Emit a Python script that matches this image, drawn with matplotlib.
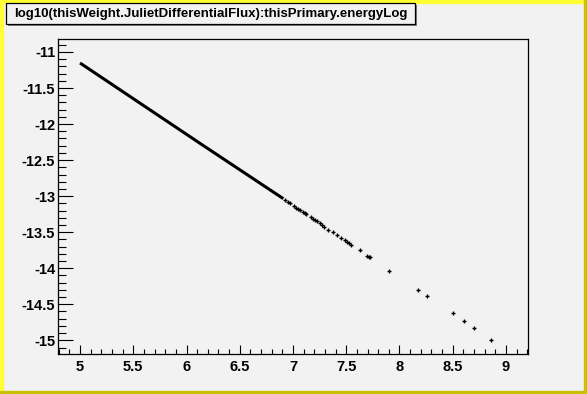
import numpy as np
import matplotlib
matplotlib.use('Agg')
import matplotlib.pyplot as plt
from matplotlib.patches import Rectangle
from matplotlib.ticker import MultipleLocator

# dense part of the scatter (points touch each other, drawn as one thick stroke)
dense_x = [5.000, 6.127, 6.909]
dense_y = [-11.153, -12.268, -13.035]

# separated points at the high-energy end
sparse_x = [6.925, 6.950, 6.972, 7.009, 7.030, 7.050, 7.066, 7.090, 7.110, 7.122,
            7.169, 7.190, 7.210, 7.225, 7.250, 7.270, 7.294, 7.331, 7.378, 7.416,
            7.454, 7.491, 7.510, 7.530, 7.547, 7.632, 7.698, 7.712, 7.726, 7.904,
            8.177, 8.261, 8.505, 8.608, 8.702, 8.862]
sparse_y = [-13.056, -13.080, -13.101, -13.139, -13.160, -13.180, -13.194, -13.220, -13.240, -13.250,
            -13.296, -13.320, -13.335, -13.351, -13.375, -13.395, -13.426, -13.463, -13.504, -13.546,
            -13.574, -13.615, -13.630, -13.655, -13.681, -13.754, -13.824, -13.838, -13.851, -14.032,
            -14.296, -14.379, -14.615, -14.726, -14.824, -14.990]

title = 'log10(thisWeight.JulietDifferentialFlux):thisPrimary.energyLog'
xticks = [5, 5.5, 6, 6.5, 7, 7.5, 8, 8.5, 9]
xticklabels = ['5', '5.5', '6', '6.5', '7', '7.5', '8', '8.5', '9']
yticks = [-15, -14.5, -14, -13.5, -13, -12.5, -12, -11.5, -11]
yticklabels = ['-15', '-14.5', '-14', '-13.5', '-13', '-12.5', '-12', '-11.5', '-11']

W, H = 587, 394
bg = '#f2f2f2'
fig = plt.figure(figsize=(W / 100, H / 100), dpi=100, facecolor=bg)
plt.rcParams['font.family'] = ['Liberation Sans', 'DejaVu Sans']

# canvas border: light yellow top/left, dark yellow bottom/right
fig.patches.append(Rectangle((0, 0), 3 / W, 1, transform=fig.transFigure, color='#ffff33', zorder=0))
fig.patches.append(Rectangle((0, 1 - 3 / H), 1, 3 / H, transform=fig.transFigure, color='#ffff33', zorder=0))
fig.patches.append(Rectangle((1 - 3 / W, 0), 3 / W, 1, transform=fig.transFigure, color='#c8c000', zorder=1))
fig.patches.append(Rectangle((0, 0), 1, 3 / H, transform=fig.transFigure, color='#c8c000', zorder=1))

ax = fig.add_axes([58 / W, 1 - 354 / H, (528 - 58) / W, (354 - 39) / H])
ax.set_facecolor(bg)
ax.plot(dense_x, dense_y, color='black', lw=2.2, solid_capstyle='butt')
ax.plot(sparse_x, sparse_y, ls='none', marker='+', color='black', ms=3.0, mew=1.0)

ax.set_xlim(4.793, 9.207)
ax.set_ylim(-15.19, -10.82)

ax.set_xticks(xticks)
ax.set_xticklabels(xticklabels)
ax.set_yticks(yticks)
ax.set_yticklabels(yticklabels)
ax.xaxis.set_minor_locator(MultipleLocator(0.1))
ax.yaxis.set_minor_locator(MultipleLocator(0.1))
ax.tick_params(axis='x', which='major', direction='in', length=6.5, width=0.8, pad=4,
               labelsize=10.5, top=False)
ax.tick_params(axis='x', which='minor', direction='in', length=3.3, width=0.8, top=False)
ax.tick_params(axis='y', which='major', direction='in', length=10.5, width=0.8, pad=2,
               labelsize=10.5, right=False)
ax.tick_params(axis='y', which='minor', direction='in', length=5.8, width=0.8, right=False)
for lab in ax.get_xticklabels() + ax.get_yticklabels():
    lab.set_fontweight('bold')
for sp in ax.spines.values():
    sp.set_linewidth(0.9)

# title box with shadow
fig.patches.append(Rectangle((8 / W, 1 - 26 / H), 409 / W, 21 / H, transform=fig.transFigure,
                             facecolor='#808080', edgecolor='none', zorder=5))
fig.patches.append(Rectangle((6 / W, 1 - 24 / H), 409 / W, 21 / H, transform=fig.transFigure,
                             facecolor=bg, edgecolor='black', lw=0.9, zorder=6))
fig.text(210.5 / W, 1 - 13.5 / H, title, ha='center', va='center', fontsize=9.5,
         fontweight='bold', zorder=7)

fig.savefig('out.png', dpi=100, facecolor=bg)
